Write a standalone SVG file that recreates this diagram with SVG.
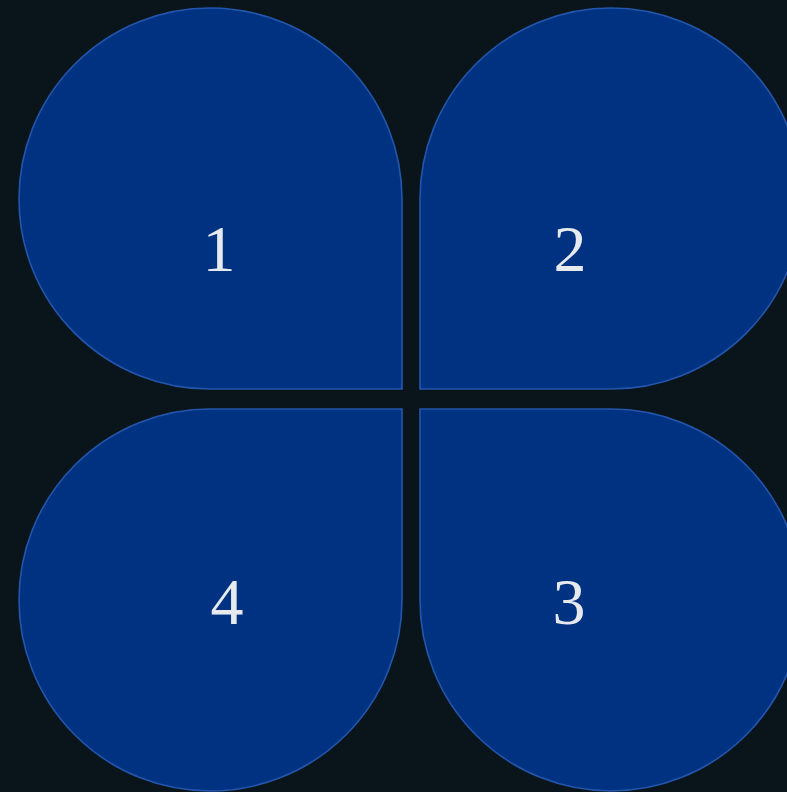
<svg xmlns="http://www.w3.org/2000/svg" width="787" height="792" viewBox="0 0 787 792">
<style>
.petal{fill:#003282;stroke:#2356ad;stroke-width:1.6}
.lbl{font-family:"Liberation Serif","DejaVu Serif",serif;font-size:66px;fill:#e6e9ee;text-anchor:middle}
</style>
<rect width="787" height="792" fill="#0a151b"/>
<g id="node1">
<path class="petal" d="M402,389 L210,389 A191,190 0 0 1 19,199 A191,191 0 0 1 210,8 A192,191 0 0 1 402,199 Z"/>
<text class="lbl" x="219" y="271">1</text>
</g>
<g id="node2">
<path class="petal" d="M420,389 L420,199 A191,191 0 0 1 611,8 A191,191 0 0 1 802,199 A191,190 0 0 1 611,389 Z"/>
<text class="lbl" x="570" y="271">2</text>
</g>
<g id="node4">
<path class="petal" d="M402,409 L402,600 A192,191 0 0 1 210,791 A191,191 0 0 1 19,600 A191,191 0 0 1 210,409 Z"/>
<text class="lbl" x="227" y="624">4</text>
</g>
<g id="node3">
<path class="petal" d="M420,409 L611,409 A191,191 0 0 1 802,600 A191,191 0 0 1 611,791 A191,191 0 0 1 420,600 Z"/>
<text class="lbl" x="569" y="624">3</text>
</g>
<g id="connectors"/>
</svg>
